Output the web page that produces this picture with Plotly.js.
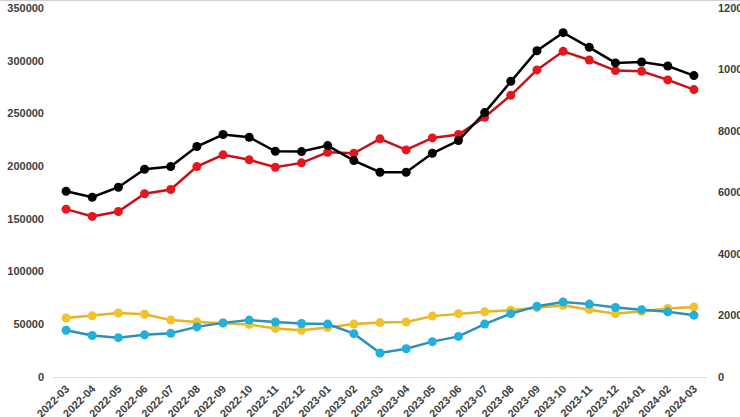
<!DOCTYPE html>
<html>
<head>
<meta charset="utf-8">
<script src="https://cdn.plot.ly/plotly-3.0.1.min.js"></script>
<style>
html,body{margin:0;padding:0;background:#fff;}
#chart{width:740px;height:417px;}
</style>
</head>
<body>
<div id="chart"></div>
<script>
const months = ["2022-03","2022-04","2022-05","2022-06","2022-07","2022-08","2022-09","2022-10","2022-11","2022-12","2023-01","2023-02","2023-03","2023-04","2023-05","2023-06","2023-07","2023-08","2023-09","2023-10","2023-11","2023-12","2024-01","2024-02","2024-03"];
const blackSeries = [176200,170500,180000,197100,199600,218600,230000,227400,214100,213800,219500,205300,194200,194200,212200,224300,250800,280500,309500,326600,312700,297900,298800,295000,285900];
const redSeries = [159200,152300,157000,173800,177800,199600,210700,206000,199000,203100,213200,212200,225900,215400,226800,230000,246400,267200,291300,308900,300700,290600,290000,281800,272600];
const yellowSeries = [1920,1990,2080,2040,1850,1790,1760,1710,1580,1520,1610,1720,1770,1790,1980,2060,2120,2170,2260,2330,2190,2060,2140,2230,2280];
const blueSeries = [1520,1350,1280,1370,1420,1630,1760,1850,1790,1740,1720,1410,780,920,1150,1320,1720,2060,2300,2440,2370,2260,2190,2120,2010];

const leftTicks = [0,50000,100000,150000,200000,250000,300000,350000];
const rightTicks = [0,2000,4000,6000,8000,10000,12000];

function tr(y, lineColor, markerColor, axis){
  return {x: months, y: y, type:'scatter', mode:'lines+markers', yaxis: axis,
    line:{color: lineColor, width:2.5}, marker:{color: markerColor, size:9}, showlegend:false, cliponaxis:false};
}
const data = [
  tr(yellowSeries, '#e6b422', '#f2c12e', 'y2'),
  tr(blueSeries, '#2a93b5', '#1fb0dc', 'y2'),
  tr(redSeries, '#c8101a', '#e8141e', 'y'),
  tr(blackSeries, '#000000', '#000000', 'y')
];
const tickFont = {family:'Liberation Sans, Arial, sans-serif', size:11, color:'#404040', weight:'bold'};
const layout = {
  width:740, height:417,
  margin:{l:53, r:33, t:8, b:40, pad:0},
  paper_bgcolor:'#ffffff', plot_bgcolor:'#ffffff',
  xaxis:{type:'category', tickangle:-45, tickfont:tickFont, showgrid:false, zeroline:false,
    showline:true, linecolor:'#d9d9d9', linewidth:1, ticks:'', automargin:false, range:[-0.5,24.5]},
  yaxis:{range:[0,350000], tickvals:leftTicks, ticktext:leftTicks.map(String), tickfont:tickFont,
    showgrid:false, zeroline:false, showline:false, ticks:'', automargin:false, ticklabelstandoff:8},
  yaxis2:{range:[0,12000], tickvals:rightTicks, ticktext:rightTicks.map(String), tickfont:tickFont,
    overlaying:'y', side:'right', showgrid:false, zeroline:false, showline:false, ticks:'', automargin:false, ticklabelstandoff:10},
  shapes:[
    {type:'line', xref:'paper', yref:'paper', x0:-0.1, x1:1.1, y0:1.02, y1:1.02, line:{color:'#cccccc', width:1}}
  ]
};
Plotly.newPlot('chart', data, layout, {displayModeBar:false, staticPlot:true});
</script>
</body>
</html>
